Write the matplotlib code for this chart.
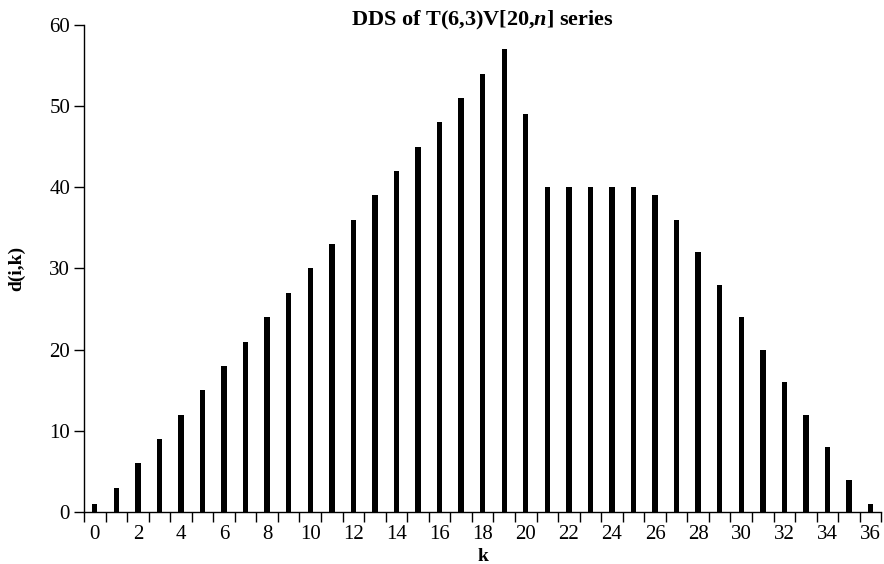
import numpy as np
import matplotlib
matplotlib.use("Agg")
from matplotlib import pyplot as plt

# DDS values d(i,k) for k = 0..36
k = list(range(37))
d = [1, 3, 6, 9, 12, 15, 18, 21, 24, 27, 30, 33, 36, 39, 42, 45, 48, 51, 54, 57,
     49, 40, 40, 40, 40, 40, 39, 36, 32, 28, 24, 20, 16, 12, 8, 4, 1]
xtick_labels = [str(v) for v in range(0, 37, 2)]

plt.rcParams['font.family'] = ['Liberation Serif', 'DejaVu Serif']
plt.rcParams['mathtext.fontset'] = 'custom'
plt.rcParams['mathtext.it'] = 'Liberation Serif:italic:bold'
plt.rcParams['mathtext.rm'] = 'Liberation Serif:bold'

fig = plt.figure(figsize=(8.84, 5.64), dpi=100)
ax = fig.add_axes([0.095, 0.092, 0.902, 0.864])

ax.bar(k, d, width=0.25, color='black')

ax.set_xlim(-0.5, 36.5)
ax.set_ylim(0, 60)
ax.set_yticks(range(0, 61, 10))
ax.set_xticks(range(0, 37, 2))
ax.set_xticklabels(xtick_labels)
ax.set_xticks(np.arange(-0.5, 37, 1), minor=True)

ax.tick_params(axis='x', which='major', length=0, pad=9, labelsize=15)
ax.tick_params(axis='x', which='minor', length=7, width=1, direction='out')
ax.tick_params(axis='y', length=7, width=1, direction='out', labelsize=15, pad=3)

for s in ['top', 'right']:
    ax.spines[s].set_visible(False)
ax.spines['left'].set_linewidth(1)
ax.spines['bottom'].set_linewidth(1)

# title sits low, its baseline level with the top of the y axis
ax.set_title(r'DDS of T(6,3)V[20,$\mathit{n}$] series', fontsize=16, fontweight='bold',
             y=0.998, pad=0, va='baseline')
ax.set_xlabel('k', fontsize=14, fontweight='bold', labelpad=3)
ax.set_ylabel('d(i,k)', fontsize=14, fontweight='bold', labelpad=17)

fig.savefig('out.png', dpi=100)
